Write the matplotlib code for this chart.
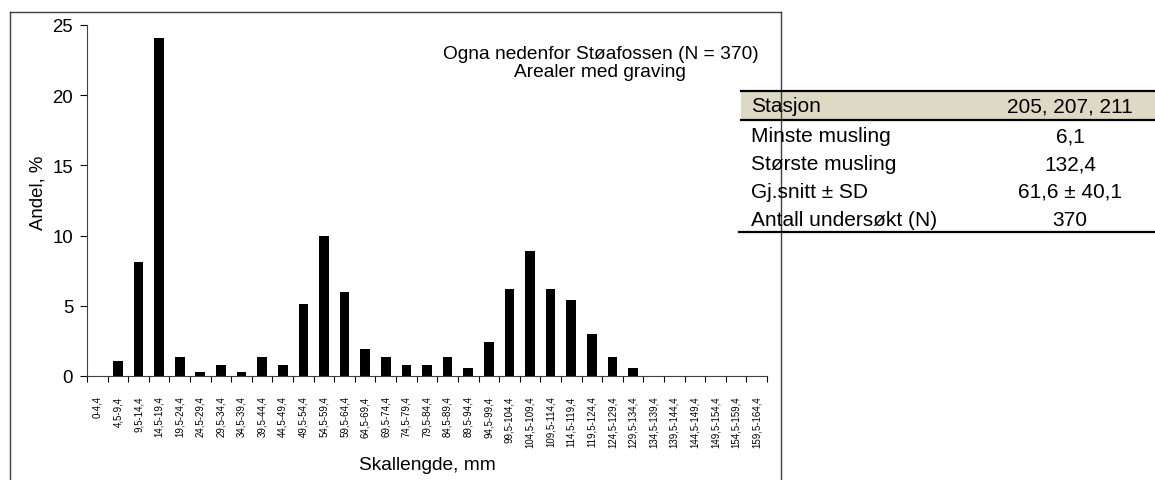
import matplotlib.pyplot as plt
from matplotlib.lines import Line2D
from matplotlib.patches import Rectangle

plt.rcParams["font.family"] = ["Liberation Sans", "DejaVu Sans"]

# lengdeklasser (mm) og andel (%)
klasser = [
    "0-4,4", "4,5-9,4", "9,5-14,4", "14,5-19,4", "19,5-24,4", "24,5-29,4",
    "29,5-34,4", "34,5-39,4", "39,5-44,4", "44,5-49,4", "49,5-54,4", "54,5-59,4",
    "59,5-64,4", "64,5-69,4", "69,5-74,4", "74,5-79,4", "79,5-84,4", "84,5-89,4",
    "89,5-94,4", "94,5-99,4", "99,5-104,4", "104,5-109,4", "109,5-114,4",
    "114,5-119,4", "119,5-124,4", "124,5-129,4", "129,5-134,4", "134,5-139,4",
    "139,5-144,4", "144,5-149,4", "149,5-154,4", "154,5-159,4", "159,5-164,4",
]
andel = [
    0.0, 1.08, 8.11, 24.05, 1.35, 0.27, 0.81, 0.27, 1.35, 0.81, 5.14, 10.0,
    5.95, 1.89, 1.35, 0.81, 0.81, 1.35, 0.54, 2.43, 6.22, 8.92, 6.22, 5.41,
    2.97, 1.35, 0.54, 0.0, 0.0, 0.0, 0.0, 0.0, 0.0,
]
y_ticks = [0, 5, 10, 15, 20, 25]

tittel = "Ogna nedenfor Støafossen (N = 370)\nArealer med graving"

tabell_rader = [
    ("Stasjon", "205, 207, 211"),
    ("Minste musling", "6,1"),
    ("Største musling", "132,4"),
    ("Gj.snitt ± SD", "61,6 ± 40,1"),
    ("Antall undersøkt (N)", "370"),
]

W, H = 1155, 481
fig = plt.figure(figsize=(W / 100, H / 100), dpi=100)


def fx(px):
    return px / W


def fy(py):
    return 1 - py / H


# ytre ramme (uten bunnlinje)
for xs, ys in [((10, 10), (13, 481)), ((10, 781), (13, 13)), ((781, 781), (13, 481))]:
    fig.add_artist(Line2D([fx(x) for x in xs], [fy(y) for y in ys],
                          color="#404040", lw=1.0, transform=fig.transFigure))

ax = fig.add_axes([fx(87), fy(377), fx(767) - fx(87), fy(26) - fy(377)])
x = list(range(len(klasser)))
ax.bar(x, andel, width=0.47, color="black")
ax.set_xlim(-0.5, len(klasser) - 0.5)
ax.set_ylim(0, 25)
ax.set_yticks(y_ticks)
ax.tick_params(axis="y", direction="out", length=5, width=0.8, labelsize=13.4, pad=5)
ax.set_xticks(x)
ax.set_xticklabels(klasser, rotation=90, fontsize=7)
ax.tick_params(axis="x", which="major", length=0, pad=14)
ax.set_xticks([i - 0.5 for i in range(len(klasser) + 1)], minor=True)
ax.tick_params(axis="x", which="minor", direction="out", length=4, width=0.8)
for s in ["top", "right"]:
    ax.spines[s].set_visible(False)
for s in ["left", "bottom"]:
    ax.spines[s].set_color("#404040")
    ax.spines[s].set_linewidth(0.8)
ax.set_ylabel("Andel, %", fontsize=13.4)
ax.yaxis.set_label_coords(-0.06, 0.524)
ax.set_xlabel("Skallengde, mm", fontsize=13.8, labelpad=6)
ax.text(0.755, 0.893, tittel, transform=ax.transAxes, ha="center", va="center",
        fontsize=13.8, linespacing=1.08)

# tabell til høyre
fig.add_artist(Rectangle((fx(738), fy(250)), fx(1155) - fx(738), fy(80) - fy(250),
                         transform=fig.transFigure, facecolor="white", edgecolor="none"))
fig.add_artist(Rectangle((fx(741), fy(121)), fx(1155) - fx(741), fy(92) - fy(121),
                         transform=fig.transFigure, facecolor="#DDD9C4", edgecolor="none"))
for x0, yy in [(741, 92), (741, 121), (739, 233)]:
    fig.add_artist(Line2D([fx(x0), fx(1155)], [fy(yy), fy(yy)], color="black",
                          lw=1.6, transform=fig.transFigure))
rad_y = [107, 137, 165, 192, 220]
for (navn, verdi), yy in zip(tabell_rader, rad_y):
    fig.text(fx(751), fy(yy), navn, ha="left", va="center", fontsize=15)
    fig.text(fx(1070), fy(yy), verdi, ha="center", va="center", fontsize=15)

fig.savefig("out.png", dpi=100)
